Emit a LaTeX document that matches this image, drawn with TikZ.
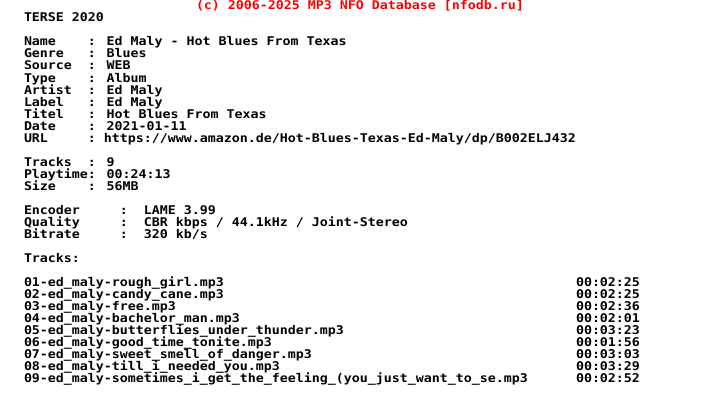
\documentclass[tikz,border=0pt]{standalone}
\usepackage{fontspec}
\setmainfont{DejaVu Sans Mono}[BoldFont=* Bold,FakeStretch=1.107]
\tikzset{
  line/.style={anchor=base west,inner sep=0pt,outer sep=0pt,font=\fontsize{12}{12}\selectfont\bfseries,text=black},
  head/.style={line,text=red}
}
\begin{document}
\begin{tikzpicture}[x=1pt,y=-1pt]
\useasboundingbox[fill=white] (0,0) rectangle (720,420);
\node[head] (hdr) at (196,10) {(c) 2006-2025 MP3 NFO Database [nfodb.ru]};
\node[line] (l0) at (24,22) {TERSE 2020};
\node[line] (l1) at (24,46) {Name~~~~: Ed Maly - Hot Blues From Texas};
\node[line] (l2) at (24,58) {Genre~~~: Blues};
\node[line] (l3) at (24,70) {Source~~: WEB};
\node[line] (l4) at (24,82) {Type~~~~: Album};
\node[line] (l5) at (24,94) {Artist~~: Ed Maly};
\node[line] (l6) at (24,106) {Label~~~: Ed Maly};
\node[line] (l7) at (24,118) {Titel~~~: Hot Blues From Texas};
\node[line] (l8) at (24,130) {Date~~~~: 2021-01-11};
\node[line] (l9) at (24,142) {URL~~~~~: https://www.amazon.de/Hot-Blues-Texas-Ed-Maly/dp/B002ELJ432};
\node[line] (t1) at (24,166) {Tracks~~: 9};
\node[line] (t2) at (24,178) {Playtime: 00:24:13};
\node[line] (t3) at (24,190) {Size~~~~: 56MB};
\node[line] (e1) at (24,214) {Encoder~~~~~:~~LAME 3.99};
\node[line] (e2) at (24,226) {Quality~~~~~:~~CBR kbps / 44.1kHz / Joint-Stereo};
\node[line] (e3) at (24,238) {Bitrate~~~~~:~~320 kb/s};
\node[line] (tr) at (24,262) {Tracks:};
\node[line] (a1) at (24,286) {01-ed\_maly-rough\_girl.mp3};
\node[line] (a2) at (24,298) {02-ed\_maly-candy\_cane.mp3};
\node[line] (a3) at (24,310) {03-ed\_maly-free.mp3};
\node[line] (a4) at (24,322) {04-ed\_maly-bachelor\_man.mp3};
\node[line] (a5) at (24,334) {05-ed\_maly-butterflies\_under\_thunder.mp3};
\node[line] (a6) at (24,346) {06-ed\_maly-good\_time\_tonite.mp3};
\node[line] (a7) at (24,358) {07-ed\_maly-sweet\_smell\_of\_danger.mp3};
\node[line] (a8) at (24,370) {08-ed\_maly-till\_i\_needed\_you.mp3};
\node[line] (a9) at (24,382) {09-ed\_maly-sometimes\_i\_get\_the\_feeling\_(you\_just\_want\_to\_se.mp3};
\node[line] (b1) at (576,286) {00:02:25};
\node[line] (b2) at (576,298) {00:02:25};
\node[line] (b3) at (576,310) {00:02:36};
\node[line] (b4) at (576,322) {00:02:01};
\node[line] (b5) at (576,334) {00:03:23};
\node[line] (b6) at (576,346) {00:01:56};
\node[line] (b7) at (576,358) {00:03:03};
\node[line] (b8) at (576,370) {00:03:29};
\node[line] (b9) at (576,382) {00:02:52};
\end{tikzpicture}
\end{document}
